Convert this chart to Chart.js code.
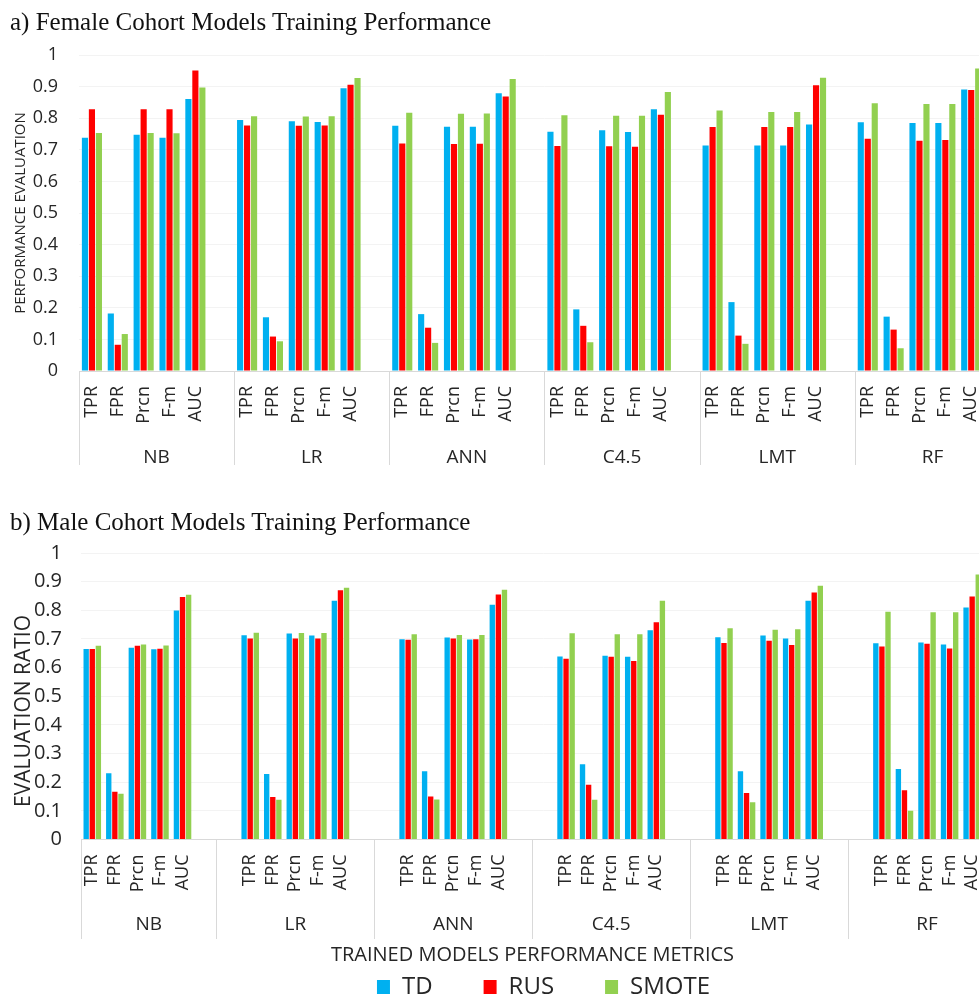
<!DOCTYPE html>
<html>
<head>
<meta charset="utf-8">
<script src="https://cdn.jsdelivr.net/npm/chart.js@4.4.1/dist/chart.umd.min.js"></script>
<style>
  html, body { margin: 0; padding: 0; background: #fff; overflow: hidden; width: 979px; height: 998px; }
  .panel-title {
    position: absolute; left: 10px; white-space: nowrap; color: #111;
    font-family: "Liberation Serif", "Times New Roman", serif; font-size: 25px; line-height: 25px;
  }
  #boxA { position: absolute; left: 0; top: 0; }
  #boxB { position: absolute; left: 0; top: 500px; }
</style>
</head>
<body>
<div id="boxA"><canvas id="femaleChart" width="1010" height="475"></canvas></div>
<div id="boxB"><canvas id="maleChart" width="1006" height="509"></canvas></div>
<div class="panel-title" style="top:9px">a) Female Cohort Models Training Performance</div>
<div class="panel-title" style="top:509px">b) Male Cohort Models Training Performance</div>

<script>
// categories
const models = ["NB", "LR", "ANN", "C4.5", "LMT", "RF"];
const metrics = ["TPR", "FPR", "Prcn", "F-m", "AUC"];
const yTicks = [0, 0.1, 0.2, 0.3, 0.4, 0.5, 0.6, 0.7, 0.8, 0.9, 1];

// a) female cohort, per model: TPR, FPR, Prcn, F-m, AUC
const femaleTD = [
  0.738, 0.182, 0.748, 0.738, 0.861,   // NB
  0.794, 0.170, 0.790, 0.788, 0.895,   // LR
  0.776, 0.180, 0.773, 0.773, 0.879,   // ANN
  0.757, 0.195, 0.762, 0.756, 0.828,   // C4.5
  0.714, 0.218, 0.714, 0.714, 0.780,   // LMT
  0.787, 0.172, 0.785, 0.785, 0.891    // RF
];
const femaleRUS = [
  0.828, 0.083, 0.828, 0.828, 0.951,
  0.777, 0.109, 0.776, 0.777, 0.906,
  0.720, 0.137, 0.718, 0.719, 0.869,
  0.712, 0.143, 0.711, 0.710, 0.811,
  0.772, 0.112, 0.772, 0.772, 0.904,
  0.735, 0.131, 0.729, 0.731, 0.889
];
const femaleSMOTE = [
  0.753, 0.117, 0.753, 0.752, 0.897,
  0.806, 0.094, 0.805, 0.806, 0.927,
  0.817, 0.089, 0.814, 0.815, 0.924,
  0.809, 0.091, 0.808, 0.808, 0.883,
  0.824, 0.086, 0.820, 0.820, 0.928,
  0.847, 0.072, 0.845, 0.845, 0.957
];

// b) male cohort
const maleTD = [
  0.665, 0.231, 0.669, 0.664, 0.799,
  0.713, 0.229, 0.719, 0.712, 0.833,
  0.699, 0.238, 0.705, 0.698, 0.819,
  0.639, 0.263, 0.641, 0.638, 0.730,
  0.706, 0.238, 0.712, 0.702, 0.833,
  0.685, 0.246, 0.688, 0.681, 0.810
];
const maleRUS = [
  0.665, 0.167, 0.676, 0.666, 0.846,
  0.702, 0.148, 0.702, 0.702, 0.870,
  0.697, 0.150, 0.702, 0.699, 0.855,
  0.631, 0.191, 0.638, 0.623, 0.758,
  0.686, 0.162, 0.694, 0.679, 0.862,
  0.674, 0.172, 0.683, 0.667, 0.848
];
const maleSMOTE = [
  0.676, 0.160, 0.681, 0.677, 0.854,
  0.722, 0.139, 0.721, 0.721, 0.879,
  0.716, 0.140, 0.714, 0.714, 0.872,
  0.720, 0.139, 0.716, 0.716, 0.833,
  0.737, 0.130, 0.732, 0.734, 0.886,
  0.795, 0.100, 0.793, 0.793, 0.925
];

const colors = { TD: "#00B0F0", RUS: "#FF0000", SMOTE: "#92D050" };
const textColor = "#262626";
const sans = "'Open Sans', 'Liberation Sans', sans-serif";

// empty slots before each model (Excel blank rows), one empty slot after each
const femaleLead = [0, 0, 0, 0, 0, 0];
const maleLead = [0, 1, 1, 1, 1, 1];

function buildSlots(lead) {
  const labels = [], groups = [];
  models.forEach((m, g) => {
    const from = labels.length;
    for (let i = 0; i < lead[g]; i++) labels.push("");
    metrics.forEach(k => labels.push(k));
    labels.push("");
    groups.push({ name: m, from: from, to: labels.length - 1 });
  });
  return { labels, groups };
}

function spread(values, lead) {
  const out = [];
  models.forEach((m, g) => {
    for (let i = 0; i < lead[g]; i++) out.push(null);
    metrics.forEach((k, j) => out.push(values[g * metrics.length + j]));
    out.push(null);
  });
  return out;
}

// draws model names under the metric labels, separators, and optional axis titles
const groupAxisPlugin = {
  id: "groupAxis",
  afterDraw(chart, args, opts) {
    const x = chart.scales.x, ctx = chart.ctx;
    const half = (x.getPixelForValue(1) - x.getPixelForValue(0)) / 2;
    ctx.save();
    ctx.strokeStyle = "#d9d9d9";
    ctx.lineWidth = 1;
    ctx.fillStyle = textColor;
    ctx.font = "19px " + sans;
    ctx.textAlign = "center";
    ctx.textBaseline = "middle";
    opts.groups.forEach((g, i) => {
      const left = x.getPixelForValue(g.from) - half;
      const right = x.getPixelForValue(g.to) + half;
      const edges = i === opts.groups.length - 1 ? [left, right] : [left];
      edges.forEach(px => {
        ctx.beginPath();
        ctx.moveTo(Math.round(px) + 0.5, x.top);
        ctx.lineTo(Math.round(px) + 0.5, x.top + opts.lineLength);
        ctx.stroke();
      });
      ctx.fillText(g.name, (left + right) / 2, x.top + opts.labelOffset);
    });
    if (opts.xTitle) {
      ctx.font = "20px " + sans;
      const cx = (chart.chartArea.left + chart.chartArea.right) / 2 + opts.xTitleShift;
      ctx.fillText(opts.xTitle, cx, x.top + opts.xTitleOffset);
    }
    if (opts.yTitle) {
      ctx.font = "21px " + sans;
      ctx.translate(opts.yTitleX, opts.yTitleY);
      ctx.rotate(-Math.PI / 2);
      ctx.fillText(opts.yTitle, 0, 0);
    }
    ctx.restore();
  }
};

function makeChart(canvasId, td, rus, smote, lead, cfg) {
  const slots = buildSlots(lead);
  return new Chart(document.getElementById(canvasId), {
    type: "bar",
    data: {
      labels: slots.labels,
      datasets: [
        { label: "TD", data: spread(td, lead), backgroundColor: colors.TD },
        { label: "RUS", data: spread(rus, lead), backgroundColor: colors.RUS },
        { label: "SMOTE", data: spread(smote, lead), backgroundColor: colors.SMOTE }
      ]
    },
    plugins: [groupAxisPlugin],
    options: {
      responsive: false,
      animation: false,
      layout: { padding: { top: cfg.top, left: 0, right: 0, bottom: 0 } },
      datasets: { bar: { categoryPercentage: 0.81, barPercentage: 0.88 } },
      plugins: {
        legend: cfg.legend,
        tooltip: { enabled: false },
        groupAxis: cfg.group
      },
      scales: {
        x: {
          grid: { display: false, drawTicks: false },
          border: { display: true, color: "#d9d9d9" },
          ticks: {
            autoSkip: false, minRotation: 90, maxRotation: 90, padding: 15,
            color: textColor, font: { family: sans, size: 18 }
          },
          // keep the plot running to the canvas edge (the reference is cropped on the right)
          afterFit: s => { s.height = cfg.xHeight; s.paddingLeft = 0; s.paddingRight = 0; }
        },
        y: {
          min: 0, max: 1,
          afterBuildTicks: s => { s.ticks = yTicks.map(v => ({ value: v })); },
          grid: { drawTicks: false, color: "#f3f3f3" },
          border: { display: false },
          ticks: {
            padding: cfg.tickPad, color: textColor,
            font: { family: sans, size: cfg.tickSize },
            callback: v => String(v)
          },
          title: cfg.yTitle,
          afterFit: s => { s.width = cfg.yWidth; }
        }
      }
    }
  });
}

const femaleSlots = buildSlots(femaleLead);
makeChart("femaleChart", femaleTD, femaleRUS, femaleSMOTE, femaleLead, {
  top: 55, xHeight: 104, yWidth: 79, tickPad: 21, tickSize: 18,
  legend: { display: false },
  yTitle: { display: true, text: "PERFORMANCE EVALUATION", color: textColor,
            font: { family: sans, size: 15 }, padding: { top: 12, bottom: 0 } },
  group: { groups: femaleSlots.groups, labelOffset: 87, lineLength: 94 }
});

const maleSlots = buildSlots(maleLead);
makeChart("maleChart", maleTD, maleRUS, maleSMOTE, maleLead, {
  top: 53, xHeight: 84.5, yWidth: 81, tickPad: 19, tickSize: 20,
  legend: {
    position: "bottom", fullSize: false,
    labels: { boxWidth: 13, boxHeight: 14, padding: 51, color: textColor,
              font: { family: sans, size: 24 } }
  },
  yTitle: { display: false },
  group: {
    groups: maleSlots.groups, labelOffset: 85.5, lineLength: 99.5,
    xTitle: "TRAINED MODELS PERFORMANCE METRICS", xTitleOffset: 115.5, xTitleShift: -11,
    yTitle: "EVALUATION RATIO", yTitleX: 24, yTitleY: 211
  }
});
</script>
</body>
</html>
